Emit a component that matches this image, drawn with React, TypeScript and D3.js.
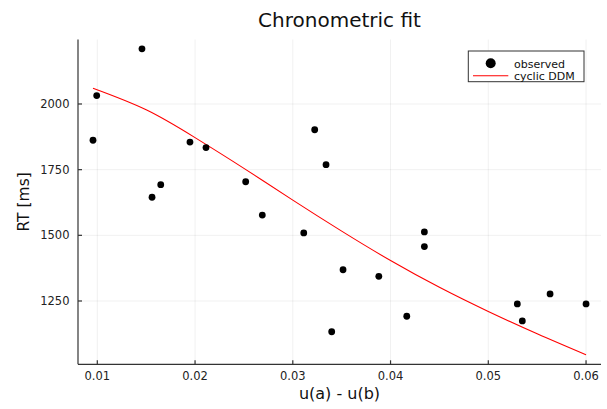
import React, { useEffect, useRef } from 'react';
import * as d3 from 'd3';

// observed points
const obsX = [0.00956, 0.00994, 0.01457, 0.0156, 0.01649, 0.01948, 0.02112, 0.02518, 0.02688, 0.03112, 0.03224,
  0.0334, 0.03398, 0.03514, 0.0388, 0.04166, 0.04346, 0.04346, 0.05297, 0.05348, 0.05632, 0.06];
const obsRT = [1862, 2032, 2210, 1645, 1693, 1855, 1834, 1704, 1577, 1509, 1902,
  1769, 1133, 1369, 1344, 1192, 1513, 1457, 1239, 1174, 1277, 1239];

// model fit (cyclic DDM)
const fitX = [0.00956, 0.015, 0.02, 0.025, 0.03, 0.035, 0.04, 0.045, 0.05, 0.055, 0.06];
const fitRT = [2060, 1978, 1872, 1755, 1634, 1516, 1404, 1302, 1210, 1125, 1045];

const xTicks = [0.01, 0.02, 0.03, 0.04, 0.05, 0.06];
const yTicks = [1250, 1500, 1750, 2000];

const W = 607, H = 409;
const FONT = 'DejaVu Sans, sans-serif';

export default function App() {
  const ref = useRef<SVGSVGElement>(null);

  useEffect(() => {
    const svg = d3.select(ref.current);
    svg.selectAll('*').remove();

    const left = 78, right = 601, top = 39.5, bottom = 364.3;
    const x = d3.scaleLinear().domain([0.008025, 0.06153]).range([left, right]);
    const y = d3.scaleLinear().domain([1009, 2245.5]).range([bottom, top]);

    // grid
    const grid = svg.append('g').attr('stroke', '#000').attr('stroke-opacity', 0.1).attr('stroke-width', 0.6);
    xTicks.forEach(t => {
      grid.append('line').attr('x1', x(t)).attr('x2', x(t)).attr('y1', top).attr('y2', bottom);
    });
    yTicks.forEach(t => {
      grid.append('line').attr('x1', left).attr('x2', right).attr('y1', y(t)).attr('y2', y(t));
    });

    // axes
    const ax = svg.append('g').attr('stroke', '#333').attr('stroke-width', 1.2);
    ax.append('line').attr('x1', left).attr('x2', left).attr('y1', top).attr('y2', bottom);
    ax.append('line').attr('x1', left).attr('x2', right).attr('y1', bottom).attr('y2', bottom);
    xTicks.forEach(t => {
      ax.append('line').attr('x1', x(t)).attr('x2', x(t)).attr('y1', bottom).attr('y2', bottom - 4);
    });
    yTicks.forEach(t => {
      ax.append('line').attr('x1', left).attr('x2', left + 4).attr('y1', y(t)).attr('y2', y(t));
    });

    // tick labels
    svg.append('g').selectAll('text').data(xTicks).enter().append('text')
      .attr('x', d => x(d)).attr('y', 380)
      .attr('text-anchor', 'middle')
      .style('font-family', FONT).style('font-size', '11.5px').style('fill', '#222')
      .text(d => d3.format('.2f')(d));
    svg.append('g').selectAll('text').data(yTicks).enter().append('text')
      .attr('x', 69.5).attr('y', d => y(d)).attr('dy', '0.36em')
      .attr('text-anchor', 'end')
      .style('font-family', FONT).style('font-size', '11.5px').style('fill', '#222')
      .text(d => d);

    // labels
    svg.append('text').attr('x', (left + right) / 2).attr('y', 27.3).attr('text-anchor', 'middle')
      .style('font-family', FONT).style('font-size', '20px').style('fill', '#111').text('Chronometric fit');
    svg.append('text').attr('x', (left + right) / 2).attr('y', 399).attr('text-anchor', 'middle')
      .style('font-family', FONT).style('font-size', '16px').style('fill', '#111').text('u(a) - u(b)');
    svg.append('text').attr('transform', `translate(29,${(top + bottom) / 2}) rotate(-90)`).attr('text-anchor', 'middle')
      .style('font-family', FONT).style('font-size', '15.5px').style('fill', '#111').text('RT [ms]');

    // fit line
    const fit = fitX.map((v, i) => [v, fitRT[i]] as [number, number]);
    const line = d3.line<[number, number]>().x(d => x(d[0])).y(d => y(d[1])).curve(d3.curveNatural);
    svg.append('path').datum(fit).attr('d', line).attr('fill', 'none').attr('stroke', '#ff0000').attr('stroke-width', 1.1);

    // observed points
    svg.append('g').selectAll('circle').data(obsX).enter().append('circle')
      .attr('cx', d => x(d)).attr('cy', (d, i) => y(obsRT[i])).attr('r', 3.4).attr('fill', '#000');

    // legend
    const lg = svg.append('g');
    lg.append('rect').attr('x', 468.3).attr('y', 51).attr('width', 115.7).attr('height', 30.7)
      .attr('fill', '#fff').attr('stroke', '#333').attr('stroke-width', 1);
    lg.append('circle').attr('cx', 490.7).attr('cy', 63.3).attr('r', 5).attr('fill', '#000');
    lg.append('line').attr('x1', 473).attr('x2', 508.3).attr('y1', 75.7).attr('y2', 75.7)
      .attr('stroke', '#ff0000').attr('stroke-width', 1.1);
    lg.append('text').attr('x', 514).attr('y', 67.8)
      .style('font-family', FONT).style('font-size', '11px').style('fill', '#111').text('observed');
    lg.append('text').attr('x', 514).attr('y', 80)
      .style('font-family', FONT).style('font-size', '11px').style('fill', '#111').text('cyclic DDM');
  }, []);

  return <svg ref={ref} width={W} height={H} style={{ position: 'absolute', left: 0, top: 0, background: '#fff' }} />;
}
